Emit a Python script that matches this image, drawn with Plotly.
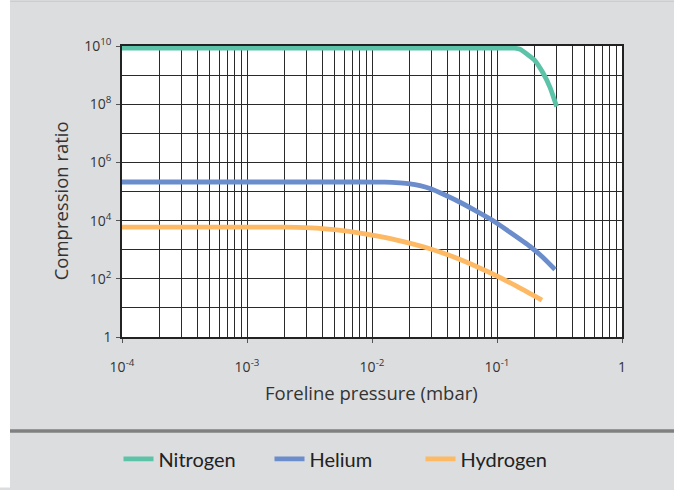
import plotly.graph_objects as go

# Data
n2_x = [1e-4, 1e-3, 1e-2, 0.1, 0.126, 0.138, 0.153, 0.184, 0.198, 0.233, 0.266, 0.30]
n2_y = [8.5e9, 8.5e9, 8.5e9, 8.5e9, 8.5e9, 8.4e9, 7.76e9, 4.37e9, 3.39e9, 1.2e9, 3.72e8, 8.3e7]

he_x = [1e-4, 1e-3, 0.00794, 0.0126, 0.01675, 0.0201, 0.0242, 0.0291, 0.0384, 0.0506,
        0.0667, 0.0879, 0.127, 0.184, 0.231, 0.291]
he_y = [2.12e5, 2.12e5, 2.12e5, 2.09e5, 1.97e5, 1.84e5, 1.585e5, 1.26e5, 7.59e4, 4.27e4,
        2.24e4, 1.15e4, 3.98e3, 1.29e3, 562, 209]

h2_x = [1e-4, 1e-3, 0.00158, 0.00251, 0.00398, 0.00631, 0.01, 0.0158, 0.0282, 0.0501, 0.0891, 0.1445, 0.229]
h2_y = [6.0e3, 6.0e3, 6.0e3, 5.83e3, 5.32e3, 4.33e3, 3.16e3, 2.14e3, 1.12e3, 473, 158, 55, 18.6]

series_names = ["Nitrogen", "Helium", "Hydrogen"]
series_colors = ["#5cc3a8", "#6b8dcb", "#fdb964"]

x_tickvals = [1e-4, 1e-3, 1e-2, 1e-1, 1]
x_ticktext = ["10<sup>-4</sup>", "10<sup>-3</sup>", "10<sup>-2</sup>", "10<sup>-1</sup>", "1"]
y_tickvals = [1, 1e2, 1e4, 1e6, 1e8, 1e10]
y_ticktext = ["1", "10<sup>2</sup>", "10<sup>4</sup>", "10<sup>6</sup>", "10<sup>8</sup>", "10<sup>10</sup>"]

x_minor = [m * 10.0 ** e for e in range(-4, 0) for m in range(2, 10)]
y_minor = [10.0 ** e for e in range(1, 10, 2)]

FONT = "Open Sans"
LEG_FONT = "Lato"
TXT = "#333333"
GRID = "#2a2a2a"

fig = go.Figure()
for name, xs, ys, col in zip(series_names, [n2_x, he_x, h2_x], [n2_y, he_y, h2_y], series_colors):
    fig.add_trace(go.Scatter(x=xs, y=ys, mode="lines", name=name,
                             line=dict(color=col, width=4.8, shape="spline", smoothing=0.5)))

W, H = 674, 490
L, R, T, B = 122, 52, 46, 148
pw, ph = W - L - R, H - T - B

def px_x(p):
    return (p - L) / pw

def px_y(p):
    return (H - B - p) / ph

fig.update_layout(
    width=W, height=H,
    margin=dict(l=L, r=R, t=T, b=B),
    paper_bgcolor="#dcdddf",
    plot_bgcolor="white",
    font=dict(family=FONT, color=TXT),
    showlegend=True,
    legend=dict(orientation="h", x=px_x(345), y=px_y(466), xanchor="center", yanchor="middle",
                font=dict(size=20, family=LEG_FONT, color="#222"), bgcolor="rgba(0,0,0,0)",
                itemwidth=30, entrywidth=106, entrywidthmode="pixels", traceorder="normal"),
    xaxis=dict(type="log", range=[-4, 0], tickvals=x_tickvals, ticktext=x_ticktext,
               showgrid=True, gridcolor=GRID, gridwidth=1,
               ticks="outside", ticklen=4, tickcolor="#555", ticklabelstandoff=12,
               showline=True, linecolor="#222", linewidth=1.5, mirror=True,
               tickfont=dict(size=14, color=TXT), zeroline=False,
               minor=dict(tickvals=x_minor, showgrid=True, gridcolor=GRID, gridwidth=1, ticks="")),
    yaxis=dict(type="log", range=[0, 10], tickvals=y_tickvals, ticktext=y_ticktext,
               showgrid=True, gridcolor=GRID, gridwidth=1,
               ticks="outside", ticklen=4, tickcolor="#555", ticklabelstandoff=2,
               showline=True, linecolor="#222", linewidth=1.5, mirror=True,
               tickfont=dict(size=14, color=TXT), zeroline=False,
               minor=dict(tickvals=y_minor, showgrid=True, gridcolor=GRID, gridwidth=1, ticks="")),
)

# White strip on the far left, separator line and faint top border
fig.add_shape(type="rect", xref="paper", yref="paper", x0=px_x(-5), x1=px_x(10), y0=px_y(-5), y1=px_y(H + 5),
              fillcolor="white", line=dict(width=0), layer="below")
fig.add_shape(type="line", xref="paper", yref="paper", x0=px_x(10), x1=px_x(W + 2), y0=px_y(437.5), y1=px_y(437.5),
              line=dict(color="#808080", width=3.5))
fig.add_shape(type="line", xref="paper", yref="paper", x0=px_x(10), x1=px_x(W + 2), y0=px_y(0.5), y1=px_y(0.5),
              line=dict(color="#c8c9cb", width=1))

fig.add_annotation(text="Compression ratio", textangle=-90, xref="paper", yref="paper",
                   x=px_x(60), y=px_y(204), showarrow=False, xanchor="center", yanchor="middle",
                   font=dict(size=18.5, family=FONT, color=TXT))
fig.add_annotation(text="Foreline pressure (mbar)", xref="paper", yref="paper",
                   x=px_x(371), y=px_y(398), showarrow=False, xanchor="center", yanchor="middle",
                   font=dict(size=18.5, family=FONT, color=TXT))

fig.write_html("out.html", config={"displayModeBar": False},
               post_script="document.body.style.margin='0px';")
